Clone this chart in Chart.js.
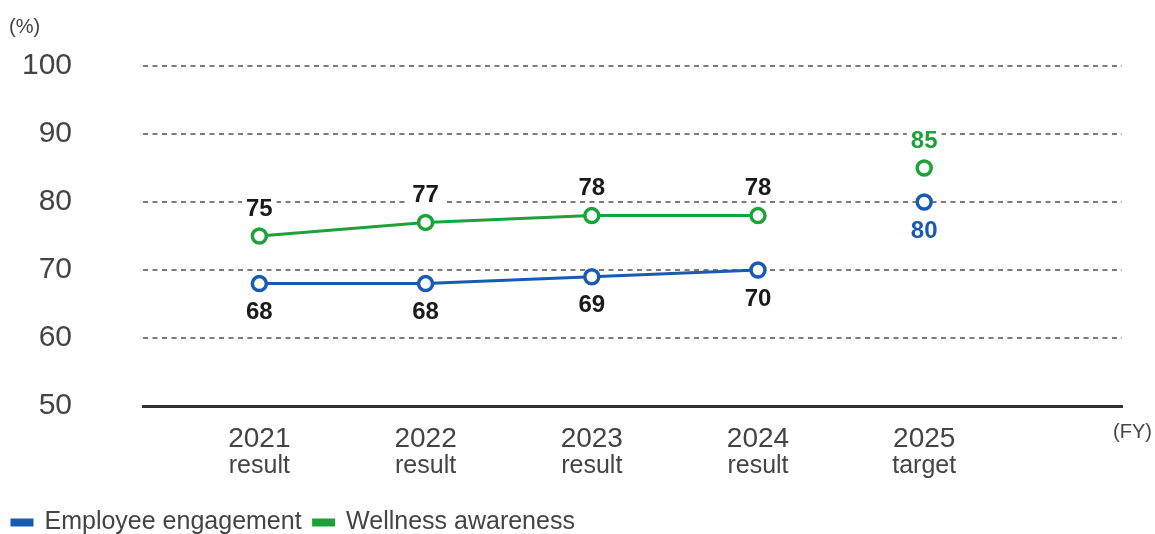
<!DOCTYPE html>
<html>
<head>
<meta charset="utf-8">
<script src="https://cdn.jsdelivr.net/npm/chart.js@4.4.1/dist/chart.umd.min.js"></script>
<style>
  html, body { margin: 0; padding: 0; background: #fff; }
  #wrap { width: 1155px; height: 534px; }
</style>
</head>
<body>
<div id="wrap"><canvas id="scoreChart"></canvas></div>
<script>
// fiscal years and what each column shows
var years = [2021, 2022, 2023, 2024, 2025];
var subLabels = ['result', 'result', 'result', 'result', 'target'];

// survey scores (%)
var engagement = [68, 68, 69, 70, 80];
var wellness = [75, 77, 78, 78, 85];

// y axis ticks
var yTicks = [50, 60, 70, 80, 90, 100];

var BLUE = '#185bb2';
var GREEN = '#1ca23b';
var FONT = '"Liberation Sans", Arial, sans-serif';

function toPoints(vals) {
    return vals.map(function (v, i) { return { x: years[i], y: v }; });
}

// the target year stands alone, no line into it
function segColor(color) {
    return function (ctx) {
        return ctx.p1DataIndex === years.length - 1 ? 'rgba(0,0,0,0)' : color;
    };
}

// value labels: wellness above, engagement below, on a white patch so the grid breaks
var valueLabels = {
    id: 'valueLabels',
    afterDatasetsDraw: function (chart) {
        var ctx = chart.ctx;
        ctx.save();
        ctx.font = 'bold 24px ' + FONT;
        ctx.textAlign = 'center';
        ctx.textBaseline = 'middle';
        chart.data.datasets.forEach(function (ds, di) {
            var meta = chart.getDatasetMeta(di);
            meta.data.forEach(function (pt, i) {
                var last = i === years.length - 1;
                var txt = String(ds.data[i].y);
                var dy = ds.labelSide === 'above' ? -27 : 29;
                var w = ctx.measureText(txt).width + 8;
                ctx.fillStyle = '#fff';
                ctx.fillRect(pt.x - w / 2, pt.y + dy - 11, w, 22);
                ctx.fillStyle = last ? ds.borderColor : '#1a1a1a';
                ctx.fillText(txt, pt.x, pt.y + dy);
            });
        });
        ctx.restore();
    }
};

// second line under the year, plus the unit captions
var axisExtras = {
    id: 'axisExtras',
    afterDraw: function (chart) {
        var ctx = chart.ctx;
        var xs = chart.scales.x;
        var area = chart.chartArea;
        ctx.save();
        ctx.fillStyle = '#444';
        ctx.textAlign = 'center';
        ctx.textBaseline = 'middle';
        ctx.font = '25px ' + FONT;
        years.forEach(function (y, i) {
            ctx.fillText(subLabels[i], xs.getPixelForValue(y), area.bottom + 60);
        });
        ctx.font = '20px ' + FONT;
        ctx.textAlign = 'left';
        ctx.fillText('(%)', 9, 27);
        ctx.textAlign = 'right';
        ctx.fillText('(FY)', 1152, area.bottom + 26);
        ctx.restore();
    }
};

new Chart(document.getElementById('scoreChart'), {
    type: 'line',
    data: {
        datasets: [{
            label: 'Employee engagement',
            data: toPoints(engagement),
            borderColor: BLUE,
            backgroundColor: BLUE,
            pointBackgroundColor: '#fff',
            pointBorderColor: BLUE,
            labelSide: 'below',
            segment: { borderColor: segColor(BLUE) }
        }, {
            label: 'Wellness awareness',
            data: toPoints(wellness),
            borderColor: GREEN,
            backgroundColor: GREEN,
            pointBackgroundColor: '#fff',
            pointBorderColor: GREEN,
            labelSide: 'above',
            segment: { borderColor: segColor(GREEN) }
        }]
    },
    options: {
        responsive: true,
        maintainAspectRatio: false,
        animation: false,
        layout: { padding: { top: 66, right: 33, left: 0, bottom: -11 } },
        elements: {
            line: { borderWidth: 3, tension: 0 },
            point: { radius: 7, borderWidth: 3.5, hoverRadius: 7 }
        },
        scales: {
            x: {
                type: 'linear',
                min: 2020.3,
                max: 2026.19,
                afterBuildTicks: function (scale) {
                    scale.ticks = years.map(function (y) { return { value: y }; });
                },
                ticks: {
                    color: '#444',
                    font: { family: FONT, size: 28 },
                    padding: 16,
                    maxRotation: 0,
                    autoSkip: false,
                    callback: function (v) { return String(v); }
                },
                grid: { display: false, drawTicks: false },
                border: { display: true, color: '#333', width: 3 },
                afterFit: function (scale) { scale.height = 92; }
            },
            y: {
                min: 50,
                max: 100,
                afterBuildTicks: function (scale) {
                    scale.ticks = yTicks.map(function (v) { return { value: v }; });
                },
                ticks: {
                    color: '#444',
                    font: { family: FONT, size: 30 },
                    padding: 71
                },
                grid: {
                    drawTicks: false,
                    lineWidth: 2,
                    color: function (c) {
                        return c.tick && c.tick.value === 50 ? 'rgba(0,0,0,0)' : '#7c7c7c';
                    }
                },
                border: { display: false, dash: [5, 4.5] },
                afterFit: function (scale) {
                    // wide label gap, but it must not push the plot down
                    scale.width = 143;
                    scale.paddingTop = 0;
                    scale.paddingBottom = 0;
                }
            }
        },
        plugins: {
            legend: {
                position: 'bottom',
                align: 'start',
                labels: {
                    color: '#444',
                    font: { family: FONT, size: 25 },
                    boxWidth: 20,
                    boxHeight: 5,
                    padding: 12
                }
            },
            tooltip: { enabled: false }
        }
    },
    plugins: [valueLabels, axisExtras]
});
</script>
</body>
</html>
